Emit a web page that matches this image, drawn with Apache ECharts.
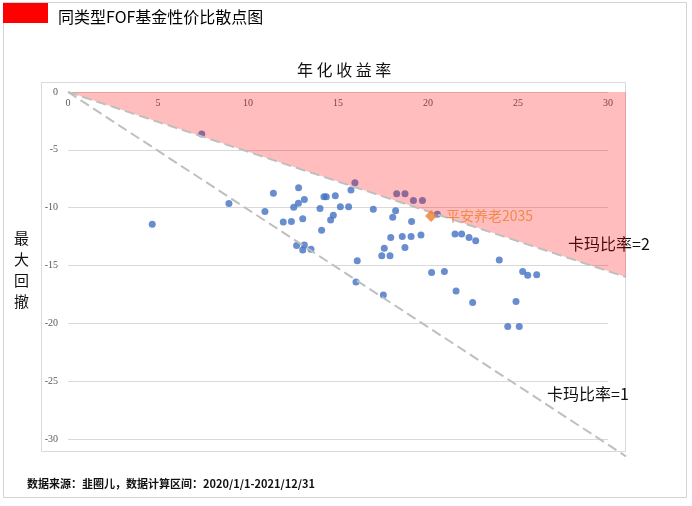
<!DOCTYPE html>
<html>
<head>
<meta charset="utf-8">
<script src="https://cdn.jsdelivr.net/npm/echarts@6/dist/echarts.min.js"></script>
<style>
html,body{margin:0;padding:0;background:#fff;}
#c{width:692px;height:506px;}
</style>
</head>
<body>
<div id="c"></div>
<script>
// 年化收益率 (%), 最大回撤 (%)
const fundReturn = [4.68,7.43,8.94,10.94,11.41,11.96,12.41,12.54,12.80,12.81,13.13,13.04,12.70,13.13,13.04,13.50,14.00,14.22,14.35,14.85,14.09,14.59,14.74,15.13,15.59,15.72,15.94,16.07,16.00,16.96,18.20,18.04,18.26,18.72,19.19,19.69,19.09,17.93,18.57,19.06,19.61,17.57,18.72,17.43,17.89,17.52,20.20,20.91,20.52,21.50,21.87,22.28,22.65,23.96,21.56,22.48,24.89,24.43,25.07,25.26,25.54,26.04];
const fundDrawdown = [-11.44,-3.63,-9.65,-10.34,-8.76,-11.24,-11.20,-9.97,-9.62,-8.27,-9.30,-10.95,-13.28,-13.22,-13.66,-13.60,-10.08,-9.05,-9.05,-8.96,-11.96,-11.06,-10.66,-9.91,-9.91,-8.47,-7.84,-14.60,-16.42,-10.14,-10.26,-10.83,-8.79,-8.79,-9.39,-9.39,-11.20,-12.59,-12.50,-12.50,-12.36,-13.51,-13.45,-14.15,-14.15,-17.55,-15.61,-15.52,-10.57,-12.27,-12.27,-12.59,-12.85,-14.52,-17.20,-18.20,-18.12,-20.28,-20.28,-15.52,-15.84,-15.79];
const highlightName = '平安养老2035';
const highlightPoint = [20.17, -10.72];
const calmar2Line = [[0, 0], [31, -16]];
const calmar1Line = [[0, 0], [31, -31.5]];
const pinkArea = [[0, 0], [31, 0], [31, -16], [0, 0]];
const xTicks = [0, 5, 10, 15, 20, 25, 30];
const yTicks = [0, -5, -10, -15, -20, -25, -30];

const scatterData = fundReturn.map((x, i) => [x, fundDrawdown[i]]);

function dashedLine(points) {
  return function (params, api) {
    const pts = points.map(p => api.coord(p));
    return {type: 'polyline', shape: {points: pts},
      style: {stroke: '#BFBFBF', lineWidth: 2, lineDash: [10, 5], fill: null}};
  };
}

const chart = echarts.init(document.getElementById('c'), null, {renderer: 'canvas'});
chart.setOption({
  animation: false,
  backgroundColor: '#ffffff',
  grid: {left: 68, top: 92, width: 540, height: 347},
  xAxis: {
    type: 'value', position: 'top', min: xTicks[0], max: xTicks[xTicks.length - 1], interval: 5,
    axisLine: {show: false}, axisTick: {show: false}, splitLine: {show: false},
    axisLabel: {inside: true, margin: 6, color: '#595959', fontSize: 10, fontFamily: 'Liberation Serif'}
  },
  yAxis: {
    type: 'value', min: yTicks[yTicks.length - 1], max: yTicks[0], interval: 5,
    axisLine: {show: false}, axisTick: {show: false},
    splitLine: {lineStyle: {color: '#D9D9D9', width: 1}},
    axisLabel: {margin: 10, color: '#595959', fontSize: 10, fontFamily: 'Liberation Serif'}
  },
  graphic: [
    {type: 'rect', shape: {x: 3.5, y: 2.5, width: 683, height: 495}, style: {fill: null, stroke: '#D4D4D4', lineWidth: 1}, silent: true, z: -10},
    {type: 'rect', shape: {x: 41.5, y: 82.5, width: 584, height: 369}, style: {fill: null, stroke: '#D9D9D9', lineWidth: 1}, silent: true, z: -10},
    {type: 'rect', shape: {x: 3, y: 3, width: 45, height: 20}, style: {fill: '#FF0000'}},
    {type: 'text', left: 58, top: 9, style: {text: '同类型FOF基金性价比散点图', font: '16px "Noto Sans CJK SC"', fill: '#000'}},
    {type: 'text', left: 297, top: 62, style: {text: '年 化 收 益 率', font: '16px "Noto Sans CJK SC"', fill: '#111'}},
    {type: 'text', left: 14, top: 228, style: {text: '最\n大\n回\n撤', font: '15px "Noto Sans CJK SC"', lineHeight: 21, fill: '#111'}},
    {type: 'text', left: 568, top: 236, style: {text: '卡玛比率=2', font: '16px "Noto Sans CJK SC"', fill: '#111'}},
    {type: 'text', left: 547, top: 386, style: {text: '卡玛比率=1', font: '16px "Noto Sans CJK SC"', fill: '#111'}},
    {type: 'text', left: 27, top: 478, style: {text: '数据来源：韭圈儿，数据计算区间：2020/1/1-2021/12/31', font: 'bold 11px "Noto Sans CJK SC"', fill: '#111'}}
  ],
  series: [
    {
      type: 'scatter', data: scatterData, symbolSize: 7, z: 2,
      itemStyle: {color: '#4472C4'}
    },
    {
      type: 'custom', z: 5, clip: false, silent: true,
      data: [0],
      renderItem: function (params, api) {
        const pts = pinkArea.map(p => api.coord(p));
        return {type: 'polygon', shape: {points: pts}, style: {fill: 'rgba(255,0,0,0.26)'}};
      }
    },
    {type: 'custom', z: 6, clip: false, silent: true, data: [0], renderItem: dashedLine(calmar2Line)},
    {type: 'custom', z: 6, clip: false, silent: true, data: [0], renderItem: dashedLine(calmar1Line)},
    {
      type: 'scatter', data: [highlightPoint], symbol: 'diamond', symbolSize: 12, z: 8,
      itemStyle: {color: '#ED7D31'},
      label: {show: true, position: 'right', distance: 9, formatter: highlightName, color: '#ED7D31', fontSize: 14, fontFamily: '"Noto Sans CJK SC"'}
    }
  ]
});
</script>
</body>
</html>
